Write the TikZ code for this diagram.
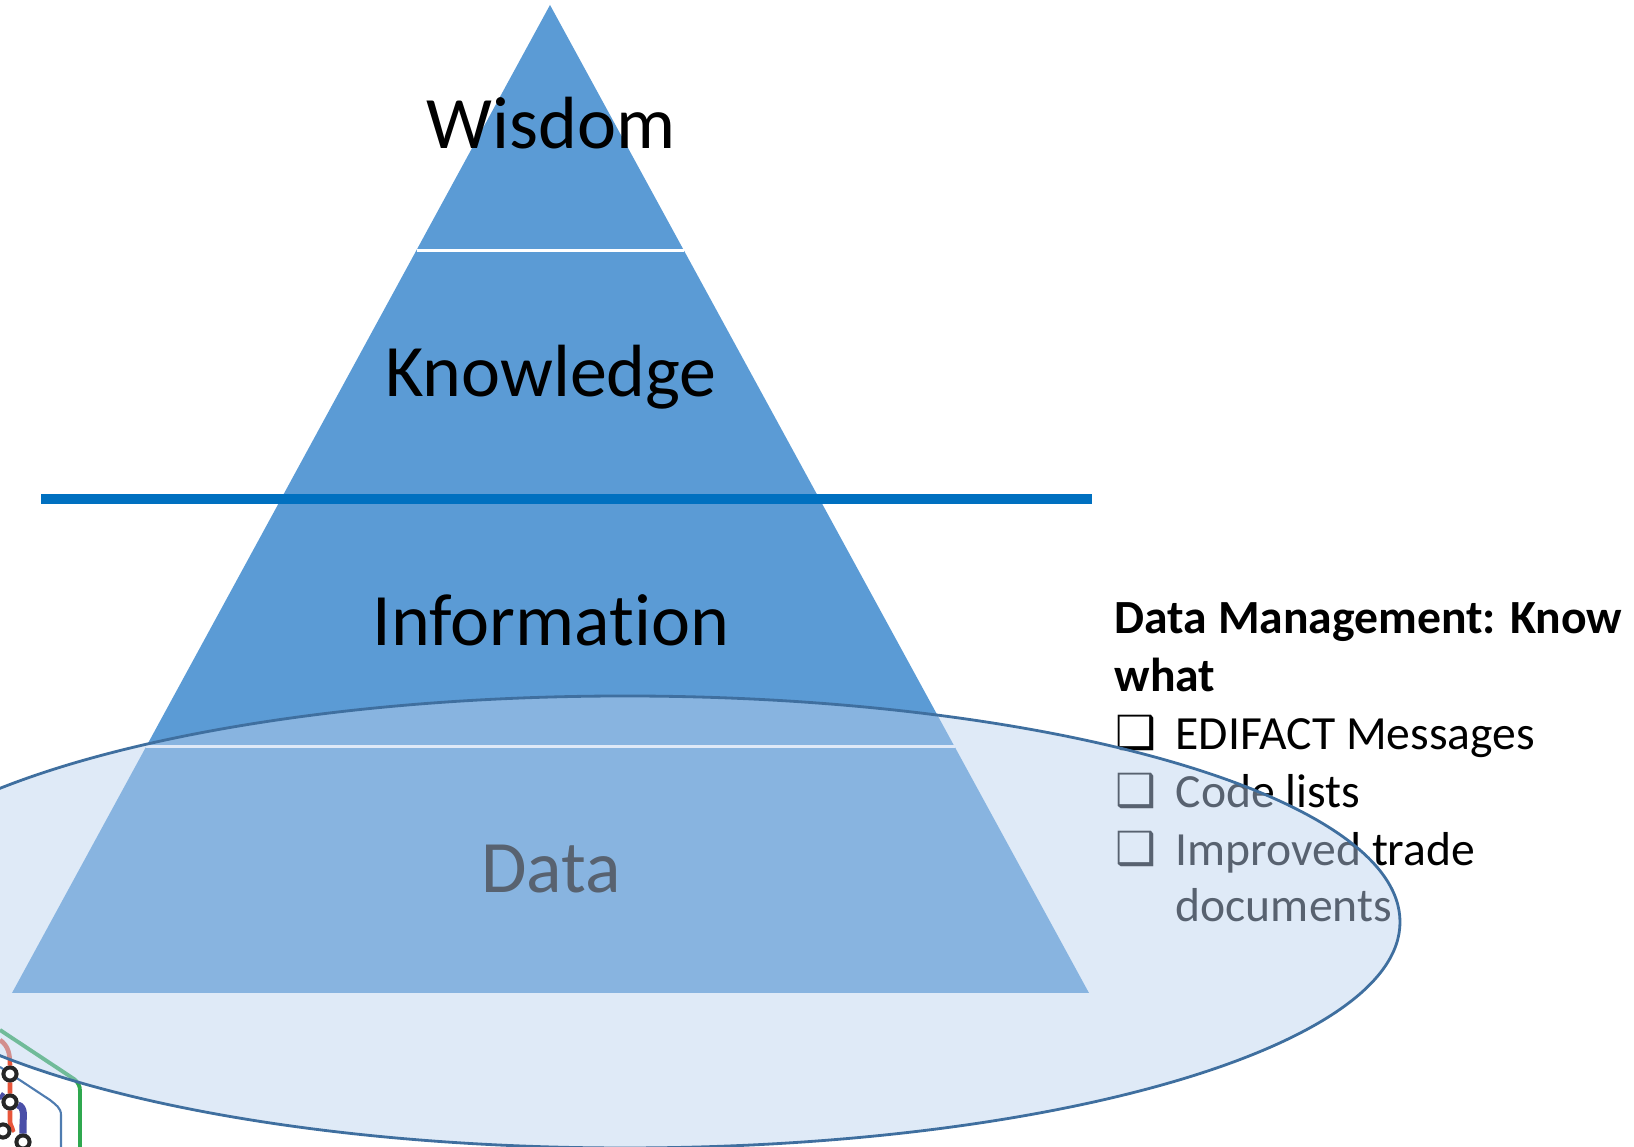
\documentclass[tikz,border=0pt]{standalone}
\usepackage{fontspec}
\setmainfont{Carlito}[Ligatures=NoCommon]
\newfontfamily\symbfont{DejaVu Sans}
\usetikzlibrary{positioning,calc,shapes.geometric}
\definecolor{pyrblue}{HTML}{5B9BD5}
\definecolor{barblue}{HTML}{0070C0}
\definecolor{ellfill}{RGB}{187,210,238}
\definecolor{elldraw}{HTML}{3F6F9F}
\definecolor{metrored}{HTML}{E8553A}
\definecolor{metronavy}{HTML}{4A4FA8}
\definecolor{metrogreen}{HTML}{2FA84F}
\definecolor{metrothin}{HTML}{4F7CB0}

\begin{document}
\begin{tikzpicture}[
  level_txt/.style={font=\fontsize{21.05}{25}\selectfont, anchor=base},
  list_txt/.style={font=\fontsize{13.55}{16}\selectfont, anchor=base west, inner sep=0pt},
  box_txt/.style={font=\symbfont\bfseries\fontsize{13}{16}\selectfont, anchor=base west, inner sep=0pt},
  stop/.style={circle, draw=black!85, fill=white, line width=1.1pt, minimum size=0.13cm, inner sep=0pt}
]
\clip (0,0) rectangle (16.34,11.47);

% --- Linhas do mapa ---
\coordinate (g0) at (0,1.17);
\coordinate (g1) at (0.80,0);
\coordinate (t0) at (0,0.80);
\coordinate (t1) at (0.61,0);
\coordinate (r0) at (0,1.07);
\coordinate (n0) at (0,0.52);
\node[stop] (s1) at (0.10,0.73) {};
\node[stop] (s2) at (0.10,0.45) {};
\node[stop] (s3) at (0.03,0.16) {};
\node[stop] (s4) at (0.23,0.05) {};
\draw[metrogreen, line width=1.1pt] (g0) -- (0.74,0.68) to[out=-40,in=90] (0.80,0.56) -- (g1);
\draw[metrothin, line width=0.6pt] (t0) -- (0.50,0.47) to[out=-40,in=90] (0.61,0.32) -- (t1);
\draw[metrored, line width=1.3pt] (r0) to[out=-35,in=90] (s1) -- (s2) -- (0.10,0.25) to[out=-90,in=0] (s3);
\draw[metronavy, line width=2pt] (n0) -- (s2) to[out=-20,in=90] (0.23,0.22) -- (s4);
\node[stop] at (s1) {};
\node[stop] at (s2) {};
\node[stop] at (s3) {};
\node[stop] at (s4) {};

% --- Piramide ---
\coordinate (apex) at (5.50,11.42);
\coordinate (bl) at (0.12,1.54);
\coordinate (br) at (10.89,1.54);
\fill[pyrblue] (apex) -- (bl) -- (br) -- cycle;
\draw[white, line width=0.03cm] ($(apex)!0.248!(bl)$) -- ($(apex)!0.248!(br)$);
\draw[white, line width=0.03cm] ($(apex)!0.751!(bl)$) -- ($(apex)!0.751!(br)$);

% --- Barra ---
\coordinate (bar_l) at (0.41,6.48);
\coordinate (bar_r) at (10.92,6.48);
\draw[barblue, line width=0.1cm] (bar_l) -- (bar_r);

% --- Niveis ---
\node[level_txt] (wisdom) at (5.51,9.98) {Wisdom};
\node[level_txt] (knowledge) at (5.51,7.50) {Knowledge};
\node[level_txt] (information) at (5.51,5.01) {Information};
\node[level_txt] (data) at (5.51,2.54) {Data};

% --- Lista ---
\node[list_txt] (head1) at (11.14,5.13) {\textbf{Data Management: Know}};
\node[list_txt] (head2) at (11.14,4.55) {\textbf{what}};
\node[box_txt] (box1) at (11.15,3.98) {❑};
\node[list_txt] (item1) at (11.75,3.97) {EDIFACT Messages};
\node[box_txt] (box2) at (11.15,3.40) {❑};
\node[list_txt] (item2) at (11.75,3.39) {Code lists};
\node[box_txt] (box3) at (11.15,2.82) {❑};
\node[list_txt] (item3) at (11.75,2.81) {Improved trade};
\node[list_txt] (item4) at (11.75,2.25) {documents};

% --- Elipse ---
\node[ellipse, draw=elldraw, line width=0.8pt, fill=ellfill, fill opacity=0.47, draw opacity=1,
      minimum width=15.50cm, minimum height=4.52cm, inner sep=0pt] (focus) at (6.25,2.25) {};

\end{tikzpicture}
\end{document}
